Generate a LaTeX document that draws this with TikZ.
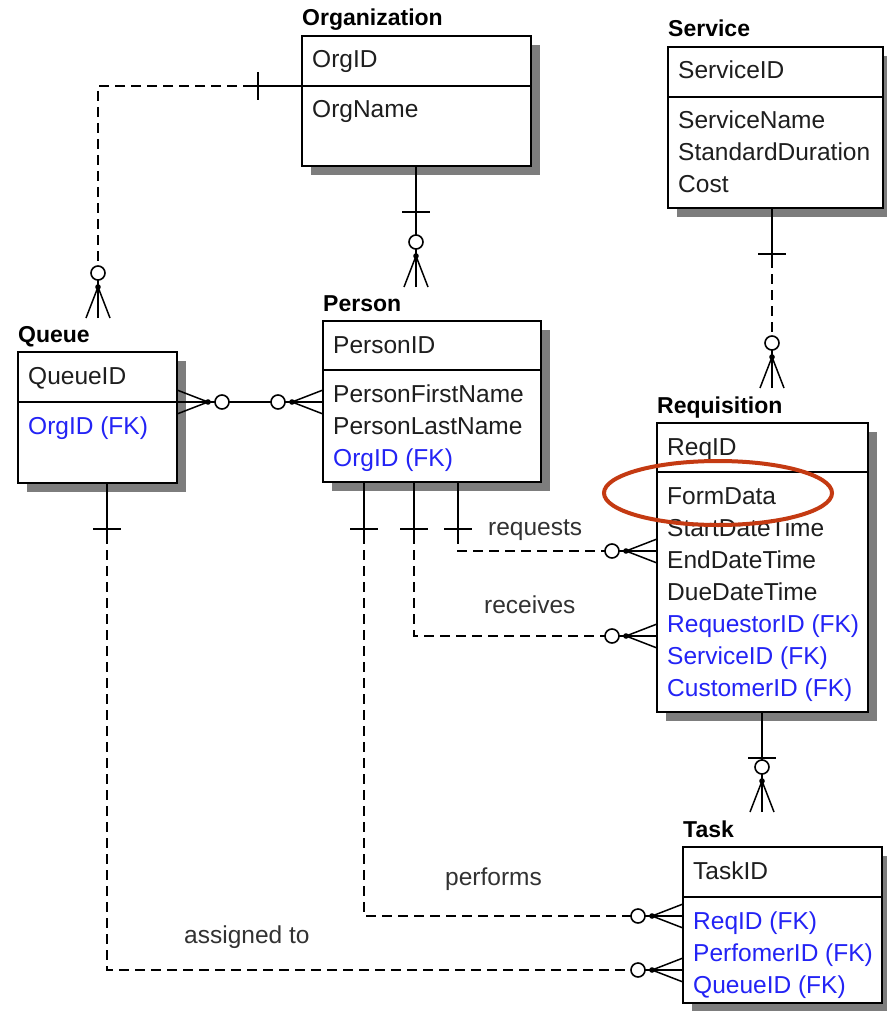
\documentclass[tikz,border=0pt]{standalone}
\usepackage{fontspec}
\setmainfont{Liberation Sans}
\usetikzlibrary{calc}
\definecolor{fkblue}{RGB}{35,35,245}
\definecolor{txt}{RGB}{30,30,30}
\definecolor{lbl}{RGB}{50,50,50}
\definecolor{shgray}{RGB}{125,125,125}
\definecolor{ringred}{RGB}{196,58,18}
\tikzset{
  ebox/.style={draw=black, fill=white, line width=2pt, inner sep=0pt, outer sep=0pt},
  ttl/.style={inner sep=0pt, font=\fontsize{23}{26}\selectfont\bfseries, text=black},
  fld/.style={inner sep=0pt, font=\fontsize{24.5}{28}\selectfont},
  rlabel/.style={inner sep=0pt, font=\fontsize{24.5}{28}\selectfont, text=lbl},
  conn/.style={line width=1.8pt, black},
  dsh/.style={conn, dash pattern=on 10pt off 6pt},
  zmany/.pic={
    \draw[line width=1.5pt] (0,-12) -- (31,0) -- (0,12);
    \draw[line width=1.5pt] (0,0) -- (38,0);
    \fill (31,0) circle (2.8);
    \draw[line width=1.6pt, fill=white] (45,0) circle (7);
  },
  onebar/.pic={
    \draw[line width=1.8pt] (0,-14) -- (0,14);
  }
}
\newcommand{\erbox}[7]{%
  \fill[shgray] (#2+9,#3+9) rectangle (#4+9,#5+9);
  \node[ebox, anchor=north west, minimum width={#4-#2}, minimum height={#5-#3}] (#1) at (#2,#3) {};
  \draw[line width=2pt] (#1.west |- 0,#6) -- (#1.east |- 0,#6);
  \node[ttl, anchor=base west] (#1-title) at (#2,#3-10) {#7};
}
\newcommand{\fld}[5]{\node[fld, text=#5, anchor=base west] (#1) at (#2,#3) {#4};}
\begin{document}
\begin{tikzpicture}[x=1pt,y=-1pt]
\useasboundingbox[fill=white] (0,0) rectangle (886,1011);

% ---------- entities ----------
\erbox{org}{302}{36}{531}{166}{86}{Organization}
\fld{org-1}{312}{68}{OrgID}{txt}
\fld{org-2}{312}{118}{OrgName}{txt}

\erbox{svc}{668}{47}{883}{208}{97}{Service}
\fld{svc-1}{678}{79}{ServiceID}{txt}
\fld{svc-2}{678}{129}{ServiceName}{txt}
\fld{svc-3}{678}{161}{StandardDuration}{txt}
\fld{svc-4}{678}{193}{Cost}{txt}

\erbox{queue}{18}{352}{177}{483}{402}{Queue}
\fld{queue-1}{28}{384}{QueueID}{txt}
\fld{queue-2}{28}{434}{OrgID (FK)}{fkblue}

\erbox{person}{323}{321}{541}{482}{370}{Person}
\fld{person-1}{333}{353}{PersonID}{txt}
\fld{person-2}{333}{402}{PersonFirstName}{txt}
\fld{person-3}{333}{434}{PersonLastName}{txt}
\fld{person-4}{333}{466}{OrgID (FK)}{fkblue}

\erbox{req}{657}{423}{868}{712}{472}{Requisition}
\fld{req-1}{667}{455}{ReqID}{txt}
\fld{req-2}{667}{504}{FormData}{txt}
\fld{req-3}{667}{536}{StartDateTime}{txt}
\fld{req-4}{667}{568}{EndDateTime}{txt}
\fld{req-5}{667}{600}{DueDateTime}{txt}
\fld{req-6}{667}{632}{RequestorID (FK)}{fkblue}
\fld{req-7}{667}{664}{ServiceID (FK)}{fkblue}
\fld{req-8}{667}{696}{CustomerID (FK)}{fkblue}

\erbox{task}{683}{847}{882}{1003}{897}{Task}
\fld{task-1}{693}{879}{TaskID}{txt}
\fld{task-2}{693}{929}{ReqID (FK)}{fkblue}
\fld{task-3}{693}{961}{PerfomerID (FK)}{fkblue}
\fld{task-4}{693}{993}{QueueID (FK)}{fkblue}

% ---------- connector end points ----------
\coordinate (oqS) at (org.west |- 0,86);
\coordinate (oqT) at (253,86);
\coordinate (oqE) at (98,318);
\coordinate (opE) at (416,287);
\coordinate (qpA) at (queue.east |- 0,402);
\coordinate (qpB) at (person.west |- 0,402);
\coordinate (srS) at (svc.south -| 772,0);
\coordinate (srT) at (772,258);
\coordinate (srE) at (772,388);
\coordinate (rtE) at (762,812);
\coordinate (rqS) at (person.south -| 458,0);
\coordinate (rqT) at (458,534);
\coordinate (rqE) at (req.west |- 0,551);
\coordinate (rcS) at (person.south -| 414,0);
\coordinate (rcT) at (414,534);
\coordinate (rcE) at (req.west |- 0,636);
\coordinate (pfS) at (person.south -| 364,0);
\coordinate (pfT) at (364,534);
\coordinate (pfE) at (task.west |- 0,916);
\coordinate (asS) at (queue.south -| 107,0);
\coordinate (asT) at (107,534);
\coordinate (asE) at (task.west |- 0,970);

% ---------- connectors ----------
% Organization - Queue
\draw[conn] (oqS) -- (oqT);
\draw[dsh] (oqT) -| ($(oqE)+(0,-50)$);
\pic at ($(oqS)+(-44,0)$) {onebar};
\pic[rotate=90] at (oqE) {zmany};

% Organization - Person
\draw[conn] (org.south -| opE) -- ($(opE)+(0,-50)$);
\pic[rotate=90] at (416,212) {onebar};
\pic[rotate=90] at (opE) {zmany};

% Queue - Person
\draw[conn] (qpA) -- (qpB);
\pic at (qpA) {zmany};
\pic[rotate=180] at (qpB) {zmany};

% Service - Requisition
\draw[conn] (srS) -- (srT);
\draw[dsh] (srT) -- ($(srE)+(0,-50)$);
\pic[rotate=90] at (772,254) {onebar};
\pic[rotate=90] at (srE) {zmany};

% Requisition - Task
\draw[conn] (req.south -| rtE) -- ($(rtE)+(0,-50)$);
\pic[rotate=90] at (762,758) {onebar};
\pic[rotate=90] at (rtE) {zmany};

% Person - Requisition (requests)
\draw[conn] (rqS) -- (rqT);
\draw[dsh] (rqT) |- ($(rqE)+(-50,0)$);
\pic[rotate=90] at (458,529) {onebar};
\pic[rotate=180] at (rqE) {zmany};

% Person - Requisition (receives)
\draw[conn] (rcS) -- (rcT);
\draw[dsh] (rcT) |- ($(rcE)+(-50,0)$);
\pic[rotate=90] at (414,529) {onebar};
\pic[rotate=180] at (rcE) {zmany};

% Person - Task (performs)
\draw[conn] (pfS) -- (pfT);
\draw[dsh] (pfT) |- ($(pfE)+(-50,0)$);
\pic[rotate=90] at (364,529) {onebar};
\pic[rotate=180] at (pfE) {zmany};

% Queue - Task (assigned to)
\draw[conn] (asS) -- (asT);
\draw[dsh] (asT) |- ($(asE)+(-50,0)$);
\pic[rotate=90] at (107,529) {onebar};
\pic[rotate=180] at (asE) {zmany};

% ---------- relationship labels ----------
\node[rlabel, anchor=base west] (l-req) at (488,535) {requests};
\node[rlabel, anchor=base west] (l-rec) at (484,613) {receives};
\node[rlabel, anchor=base west] (l-perf) at (445,885) {performs};
\node[rlabel, anchor=base west] (l-asg) at (184,943) {assigned to};

% ---------- highlight ----------
\draw[ringred, line width=4pt] (718,493) ellipse [x radius=114, y radius=32];
\end{tikzpicture}
\end{document}
